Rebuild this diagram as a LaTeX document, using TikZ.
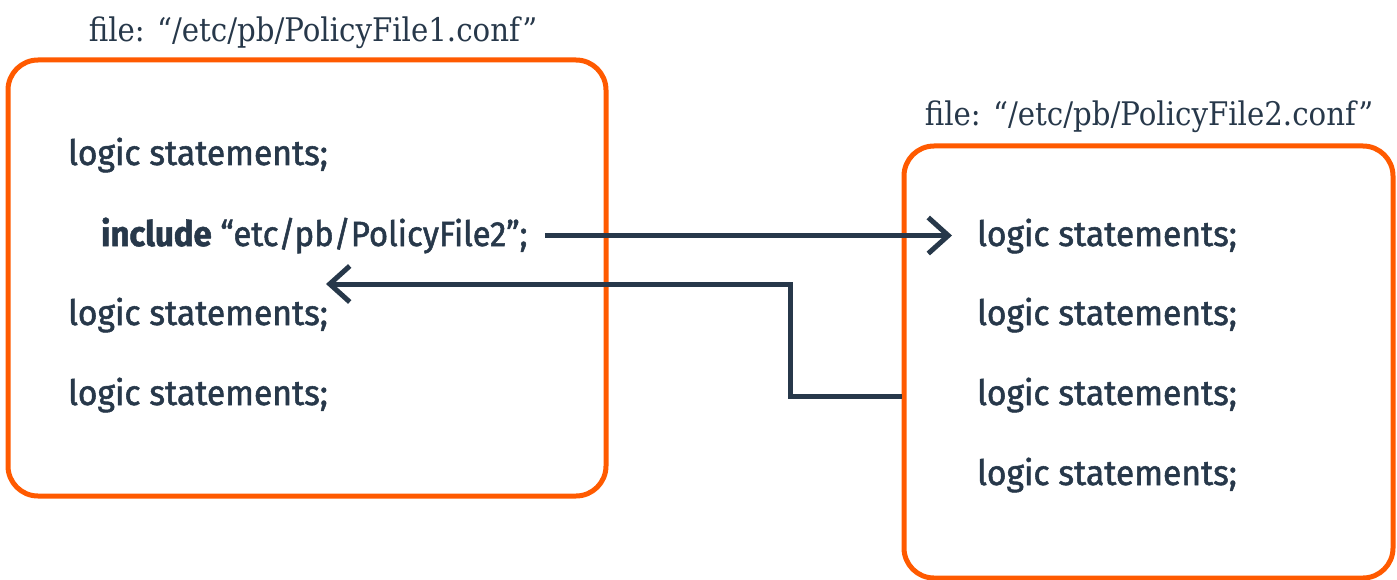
\documentclass[tikz,border=0pt]{standalone}
\usepackage{fontspec}
\setmainfont{Fira Sans}[FakeStretch=0.96, FakeBold=1.5]
\newfontfamily\incfont{Fira Sans}[FakeStretch=0.94, FakeBold=1.5]
\newfontfamily\titlefont{DejaVu Serif Condensed}
\usetikzlibrary{arrows.meta}
\definecolor{boxorange}{HTML}{FF5A00}
\definecolor{ink}{HTML}{27384A}
\tikzset{
  filebox/.style={draw=boxorange, line width=5pt, rounded corners=30pt, inner sep=0pt},
  stmt/.style={anchor=base west, inner sep=0pt, text=ink, font=\fontsize{35}{40}\selectfont},
  ftitle/.style={anchor=base, inner sep=0pt, text=ink, font=\titlefont\fontsize{32.5}{36}\selectfont},
  conn/.style={draw=ink, line width=5pt, -{Straight Barb[length=20pt,width=36pt,line width=5pt]}}
}
\begin{document}
\begin{tikzpicture}[x=1pt,y=-1pt]
\useasboundingbox (0,0) rectangle (1397,580);
% boxes
\node[filebox, minimum width=598pt, minimum height=436pt] (box1) at (307,278) {};
\node[filebox, minimum width=489pt, minimum height=432pt] (box2) at (1148.5,362) {};
% titles
\node[ftitle] (t1) at (313,42) {file: “/etc/pb/PolicyFile1.conf”};
\node[ftitle] (t2) at (1149,126) {file: “/etc/pb/PolicyFile2.conf”};
% left statements
\node[stmt] (l1) at (68,165) {logic statements;};
\node[stmt, font=\incfont\fontsize{35}{40}\selectfont] (inc) at (101,246) {\textbf{include} “etc/pb/PolicyFile2”;};
\node[stmt] (l3) at (68,325) {logic statements;};
\node[stmt] (l4) at (68,405) {logic statements;};
% right statements
\node[stmt] (r1) at (977,246) {logic statements;};
\node[stmt] (r2) at (977,325) {logic statements;};
\node[stmt] (r3) at (977,405) {logic statements;};
\node[stmt] (r4) at (977,485) {logic statements;};
% connectors
\coordinate (a1s) at ([xshift=17pt]inc.east);
\coordinate (a1e) at ([xshift=-25pt]r1.west);
\draw[conn] (a1s) -- (a1s -| a1e);
\coordinate (a2s) at (box2.west |- 0,396);
\coordinate (a2k) at (790,396);
\coordinate (a2m) at (790,284);
\coordinate (a2e) at (326,284);
\draw[conn] (a2s) -- (a2k) -- (a2m) -- (a2e);
\end{tikzpicture}
\end{document}
